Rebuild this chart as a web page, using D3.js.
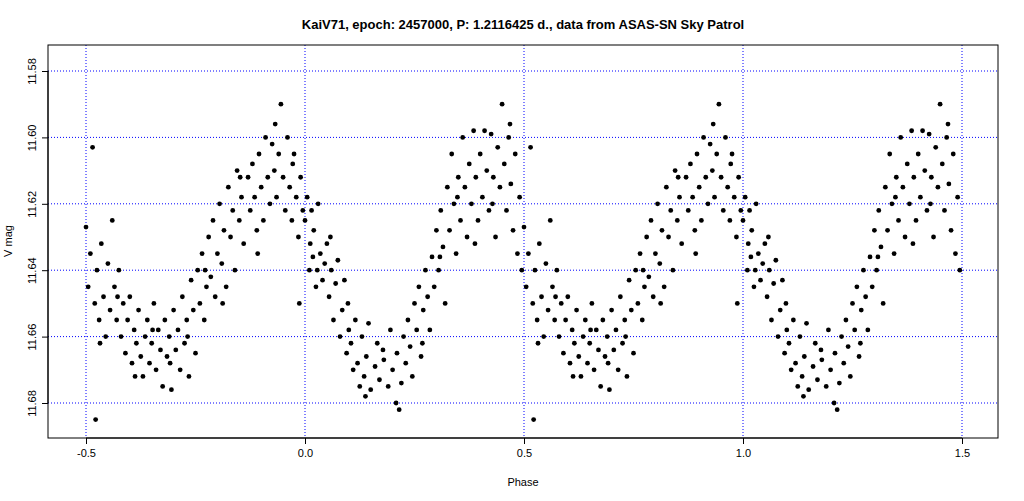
<!DOCTYPE html>
<html><head><meta charset="utf-8">
<script src="https://cdn.jsdelivr.net/npm/d3@7"></script>
<style>body{margin:0;background:#fff}text{font-family:"Liberation Sans",Arial,sans-serif}</style>
</head><body><svg id="c" width="1024" height="501"></svg>
<script>
const title = "KaiV71, epoch: 2457000, P: 1.2116425 d., data from ASAS-SN Sky Patrol";
const xTicks = [-0.5, 0, 0.5, 1, 1.5];
const xTickLabels = ["-0.5", "0.0", "0.5", "1.0", "1.5"];
const yTicks = [11.58, 11.60, 11.62, 11.64, 11.66, 11.68];
const phase = [0.00,0.005,0.01,0.012,0.015,0.02,0.025,0.028,0.03,0.035,0.04,0.045,0.05,0.055,0.06,0.065,0.07,0.075,0.08,0.085,0.09,0.095,0.10,0.105,0.11,0.115,0.12,0.125,0.13,0.135,0.14,0.145,0.15,0.16,0.165,0.17,0.18,0.19,0.195,0.20,0.21,0.215,0.22,0.225,0.23,0.235,0.24,0.245,0.25,0.255,0.26,0.265,0.27,0.275,0.28,0.285,0.29,0.295,0.30,0.305,0.31,0.315,0.32,0.325,0.33,0.335,0.34,0.345,0.35,0.355,0.36,0.365,0.37,0.375,0.38,0.385,0.39,0.395,0.40,0.405,0.41,0.415,0.42,0.425,0.43,0.435,0.44,0.445,0.45,0.455,0.46,0.465,0.47,0.475,0.48,0.485,0.49,0.495,
0.50,0.505,0.51,0.515,0.52,0.522,0.525,0.53,0.535,0.54,0.545,0.55,0.555,0.56,0.565,0.57,0.575,0.58,0.585,0.59,0.595,0.60,0.605,0.61,0.615,0.62,0.625,0.63,0.635,0.64,0.645,0.65,0.655,0.66,0.665,0.67,0.675,0.68,0.685,0.69,0.695,0.70,0.705,0.71,0.715,0.72,0.725,0.73,0.735,0.74,0.745,0.75,0.755,0.76,0.765,0.77,0.775,0.78,0.785,0.79,0.795,0.80,0.805,0.81,0.815,0.82,0.825,0.83,0.835,0.84,0.845,0.85,0.855,0.86,0.87,0.875,0.88,0.885,0.89,0.895,0.90,0.905,0.91,0.915,0.92,0.925,0.93,0.935,0.94,0.945,0.95,0.955,0.96,0.965,0.97,0.975,0.98,0.985,0.99,0.995,0.987,
0.018,0.058,0.098,0.138,0.178,0.208,0.268,0.308,0.348,0.388,0.428,0.468,0.532,0.572,0.612,0.652,0.692,0.732,0.772,0.812,0.852,0.892,0.932,0.972];
const vmag = [11.625,11.618,11.640,11.632,11.622,11.628,11.645,11.64,11.620,11.635,11.643,11.638,11.632,11.648,11.640,11.655,11.644,11.637,11.660,11.652,11.643,11.665,11.658,11.662,11.670,11.655,11.668,11.675,11.660,11.672,11.666,11.656,11.676,11.669,11.662,11.673,11.667,11.675,11.658,11.670,11.665,11.682,11.674,11.660,11.668,11.655,11.663,11.672,11.650,11.658,11.645,11.666,11.652,11.640,11.648,11.658,11.636,11.645,11.628,11.640,11.622,11.633,11.650,11.615,11.628,11.605,11.620,11.635,11.612,11.625,11.600,11.615,11.630,11.608,11.620,11.598,11.612,11.625,11.605,11.618,11.598,11.610,11.622,11.599,11.612,11.630,11.603,11.615,11.590,11.608,11.622,11.600,11.614,11.628,11.605,11.635,11.618,11.640,
11.627,11.645,11.635,11.603,11.650,11.685,11.640,11.655,11.632,11.648,11.660,11.638,11.652,11.625,11.645,11.655,11.640,11.660,11.650,11.665,11.655,11.648,11.668,11.658,11.662,11.652,11.666,11.672,11.660,11.655,11.668,11.662,11.650,11.670,11.658,11.664,11.675,11.655,11.666,11.660,11.676,11.652,11.664,11.658,11.670,11.648,11.662,11.655,11.672,11.643,11.652,11.665,11.640,11.650,11.635,11.655,11.645,11.630,11.642,11.625,11.648,11.635,11.620,11.638,11.628,11.645,11.615,11.630,11.622,11.640,11.610,11.625,11.618,11.632,11.612,11.622,11.608,11.618,11.628,11.605,11.615,11.625,11.600,11.612,11.620,11.602,11.610,11.618,11.605,11.590,11.612,11.622,11.600,11.615,11.625,11.605,11.618,11.630,11.612,11.622,11.650,
11.636,11.630,11.650,11.678,11.664,11.680,11.662,11.636,11.618,11.632,11.620,11.596,11.662,11.648,11.672,11.658,11.668,11.660,11.640,11.650,11.612,11.635,11.596,11.608];

const svg = d3.select("#c");
const L=48,R=998,T=45,B=438;
const x = d3.scaleLinear().domain([-0.5,1.5]).range([86,962]);
const y = d3.scaleLinear().domain([11.58,11.68]).range([71,403]);

svg.append("g").selectAll("line").data(xTicks).join("line")
 .attr("x1",d=>x(d)).attr("x2",d=>x(d)).attr("y1",T).attr("y2",B)
 .attr("stroke","#0000ff").attr("stroke-dasharray","1,2");
svg.append("g").selectAll("line").data(yTicks).join("line")
 .attr("y1",d=>y(d)).attr("y2",d=>y(d)).attr("x1",L).attr("x2",R)
 .attr("stroke","#0000ff").attr("stroke-dasharray","1,2");

const pts=[];
phase.forEach((p,i)=>{pts.push([p,vmag[i]]); pts.push([p<0.5?p+1:p-1,vmag[i]]);});
svg.append("g").selectAll("circle").data(pts).join("circle")
 .attr("cx",d=>x(d[0])).attr("cy",d=>y(d[1])).attr("r",2.4).attr("fill","#000");

svg.append("rect").attr("x",L).attr("y",T).attr("width",R-L).attr("height",B-T)
 .attr("fill","none").attr("stroke","#000");

const xa = d3.axisBottom(x).tickValues(xTicks).tickFormat((d,i)=>xTickLabels[i]).tickSize(6).tickSizeOuter(0);
const gx = svg.append("g").attr("transform",`translate(0,${B})`).call(xa);
gx.select(".domain").attr("d",`M${x(-0.5)},0H${x(1.5)}`);
gx.selectAll("text").attr("font-size",11).attr("dy","0.9em");
const ya = d3.axisLeft(y).tickValues(yTicks).tickFormat(d3.format(".2f")).tickSize(6).tickSizeOuter(0);
const gy = svg.append("g").attr("transform",`translate(${L},0)`).call(ya);
gy.select(".domain").attr("d",`M0,${y(11.58)}V${y(11.68)}`);
gy.selectAll("text").attr("font-size",11).attr("x",0).attr("y",0).attr("dy","0")
 .attr("text-anchor","middle").attr("transform","translate(-12,0) rotate(-90)");

svg.append("text").attr("x",523).attr("y",29).attr("text-anchor","middle").attr("font-size",13).attr("font-weight","bold").text(title);
svg.append("text").attr("x",523).attr("y",486).attr("text-anchor","middle").attr("font-size",11).text("Phase");
svg.append("text").attr("transform","translate(12,241) rotate(-90)").attr("text-anchor","middle").attr("font-size",11).text("V mag");
</script></body></html>
